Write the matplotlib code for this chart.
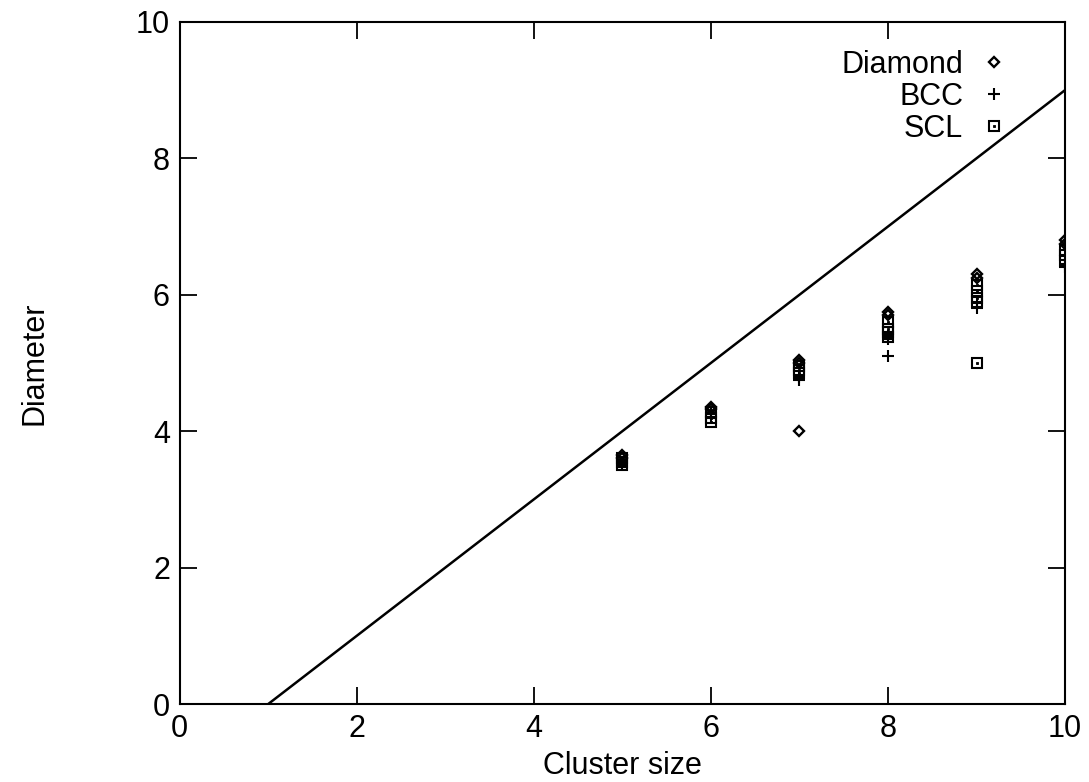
import matplotlib
matplotlib.use("Agg")
import matplotlib.pyplot as plt
from matplotlib.legend_handler import HandlerTuple

plt.rcParams['font.family'] = ['Liberation Sans', 'DejaVu Sans']

# Reference line
line_x = [1, 10]
line_y = [0, 9]

# Diamond series
diamond_x = [5, 5, 6, 6, 7, 7, 7, 8, 8, 9, 9, 10, 10]
diamond_y = [3.65, 3.6, 4.35, 4.32, 5.05, 5.0, 4.0, 5.75, 5.7, 6.3, 6.25, 6.8, 6.75]

# BCC series
bcc_x = [5, 5, 6, 6, 7, 7, 8, 8, 8, 9, 9, 10, 10]
bcc_y = [3.55, 3.5, 4.25, 4.2, 4.8, 4.75, 5.4, 5.35, 5.1, 5.9, 5.8, 6.45, 6.4]

# SCL series
scl_x = [5, 5, 5, 6, 6, 6, 7, 7, 7, 8, 8, 8, 8, 9, 9, 9, 9, 9, 10, 10, 10]
scl_y = [3.6, 3.55, 3.5, 4.28, 4.2, 4.13, 4.95, 4.9, 4.85, 5.6, 5.5, 5.45, 5.38,
         6.15, 6.05, 5.95, 5.9, 5.0, 6.65, 6.58, 6.5]

x_ticks = [0, 2, 4, 6, 8, 10]
y_ticks = [0, 2, 4, 6, 8, 10]

fig = plt.figure(figsize=(10.89, 7.82), dpi=100)
ax = fig.add_axes([0.165, 0.0997, 0.813, 0.8723])

ax.plot(line_x, line_y, color='black', lw=1.8, zorder=2)

d, = ax.plot(diamond_x, diamond_y, ls='none', marker='D', ms=5.5, mfc='none',
             mec='black', mew=1.7, label='Diamond', zorder=3)
b, = ax.plot(bcc_x, bcc_y, ls='none', marker='+', ms=9, mec='black', mew=1.5,
             label='BCC', zorder=3)
s1, = ax.plot(scl_x, scl_y, ls='none', marker='s', ms=7.5, mfc='none',
              mec='black', mew=1.5, zorder=3)
s2, = ax.plot(scl_x, scl_y, ls='none', marker='s', ms=1.8, mfc='black',
              mec='black', mew=0.6, zorder=3)

ax.set_xlim(0, 10)
ax.set_ylim(0, 10)
ax.set_xticks(x_ticks)
ax.set_yticks(y_ticks)
ax.tick_params(direction='in', length=12, width=1.3, top=True, right=True,
               labelsize=22, pad=7)
for sp in ax.spines.values():
    sp.set_linewidth(1.5)

ax.set_xlabel('Cluster size', fontsize=22, labelpad=5)
ax.set_ylabel('Diameter', fontsize=22, labelpad=62)

leg = ax.legend([d, b, (s1, s2)], ['Diamond', 'BCC', 'SCL'],
                handler_map={tuple: HandlerTuple(ndivide=1, pad=0)},
                loc='upper right', bbox_to_anchor=(0.961, 0.99),
                frameon=False, markerfirst=False, fontsize=22,
                handlelength=1.0, handletextpad=0.5, labelspacing=0.06,
                borderpad=0.2)

fig.savefig('out.png', dpi=100)
